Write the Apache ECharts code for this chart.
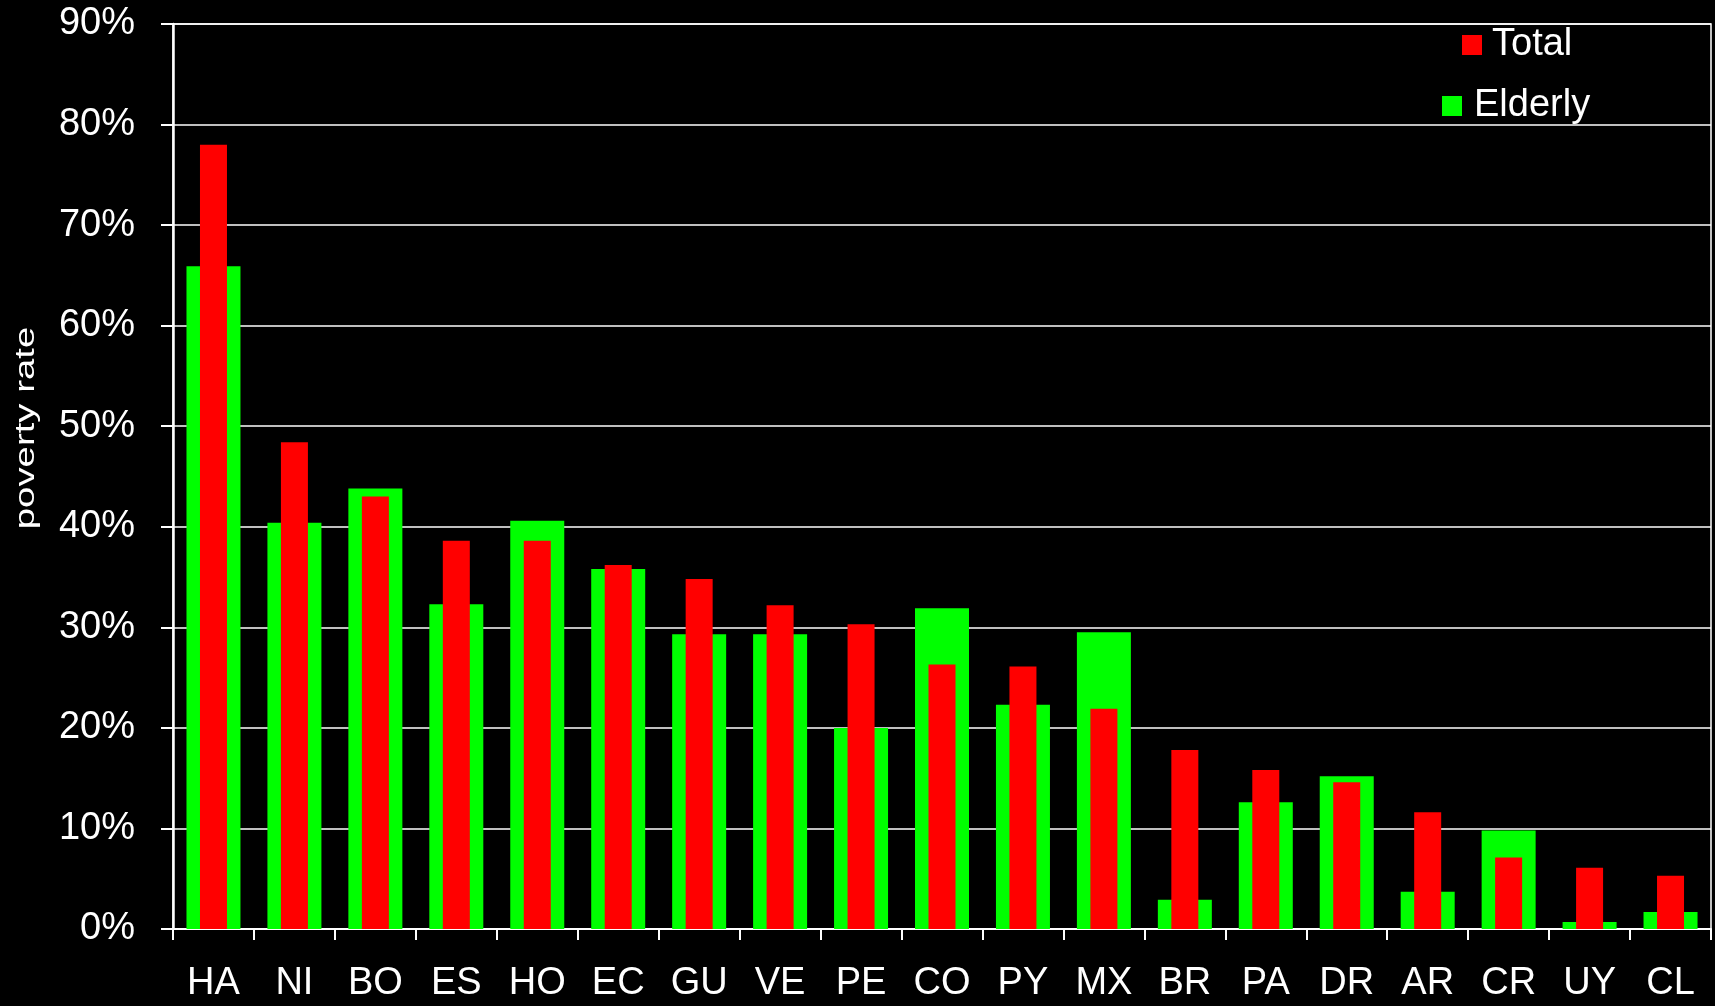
<!DOCTYPE html>
<html>
<head>
<meta charset="utf-8">
<title>Poverty rate: total vs elderly</title>
<script src="https://cdn.jsdelivr.net/npm/echarts@6/dist/echarts.min.js"></script>
<style>
  html, body { margin: 0; padding: 0; background: #000; }
  #chart { width: 1715px; height: 1006px; }
</style>
</head>
<body>
<div id="chart"></div>
<script>
// Country codes along the x axis
const countries = ['HA', 'NI', 'BO', 'ES', 'HO', 'EC', 'GU', 'VE', 'PE', 'CO',
                   'PY', 'MX', 'BR', 'PA', 'DR', 'AR', 'CR', 'UY', 'CL'];

// Poverty rate of the whole population (%)
const totalRate = [78.0, 48.4, 43.0, 38.6, 38.6, 36.2, 34.8, 32.2, 30.3, 26.3,
                   26.1, 21.9, 17.8, 15.8, 14.6, 11.6, 7.1, 6.1, 5.3];

// Poverty rate of the elderly (%)
const elderlyRate = [65.9, 40.4, 43.8, 32.3, 40.6, 35.8, 29.3, 29.3, 20.0, 31.9,
                     22.3, 29.5, 2.9, 12.6, 15.2, 3.7, 9.8, 0.7, 1.7];

// Value axis range and step (%)
const yMin = 0;
const yMax = 90;
const yStep = 10;

const FONT = '"Liberation Sans", Arial, Helvetica, sans-serif';

const chart = echarts.init(document.getElementById('chart'), null, { renderer: 'canvas' });

chart.setOption({
  backgroundColor: '#000000',
  animation: false,
  grid: {
    left: 173,
    right: 4,
    top: 24,
    bottom: 77,
    show: true,
    borderColor: '#ffffff',
    borderWidth: 1.5
  },
  legend: [
    {
      data: ['Total'],
      left: 1462,
      top: 26,
      padding: 0,
      itemWidth: 20,
      itemHeight: 20,
      icon: 'rect',
      textStyle: { color: '#ffffff', fontSize: 38, fontFamily: FONT, padding: [0, 0, 0, 5] }
    },
    {
      data: ['Elderly'],
      left: 1442,
      top: 87,
      padding: 0,
      itemWidth: 20,
      itemHeight: 20,
      icon: 'rect',
      textStyle: { color: '#ffffff', fontSize: 38, fontFamily: FONT, padding: [0, 0, 0, 7] }
    }
  ],
  xAxis: [
    {
      type: 'category',
      data: countries,
      boundaryGap: true,
      axisLine: { show: true, lineStyle: { color: '#ffffff', width: 2 } },
      axisTick: { show: true, length: 11, lineStyle: { color: '#ffffff', width: 2 } },
      axisLabel: { color: '#ffffff', fontSize: 38, fontFamily: FONT, margin: 36, interval: 0 },
      splitLine: { show: false }
    },
    {
      // Overlay axis so the narrow red bars sit centred on the wide green ones
      type: 'category',
      data: countries,
      position: 'bottom',
      boundaryGap: true,
      show: false
    }
  ],
  yAxis: {
    type: 'value',
    min: yMin,
    max: yMax,
    interval: yStep,
    axisLine: { show: true, lineStyle: { color: '#ffffff', width: 2.5 } },
    axisTick: { show: true, length: 12, lineStyle: { color: '#ffffff', width: 2 } },
    axisLabel: { color: '#ffffff', fontSize: 38, fontFamily: FONT, margin: 38, formatter: '{value}%' },
    splitLine: { show: true, lineStyle: { color: '#ffffff', width: 1.5 } }
  },
  graphic: [
    {
      type: 'text',
      x: 27,
      y: 428,
      rotation: Math.PI / 2,
      scaleX: 1.42,
      style: {
        text: 'poverty rate',
        fill: '#ffffff',
        font: '27px ' + FONT,
        align: 'center',
        verticalAlign: 'middle'
      }
    }
  ],
  series: [
    {
      name: 'Elderly',
      type: 'bar',
      xAxisIndex: 0,
      data: elderlyRate,
      barWidth: 54,
      itemStyle: { color: '#00ff00' },
      z: 2
    },
    {
      name: 'Total',
      type: 'bar',
      xAxisIndex: 1,
      data: totalRate,
      barWidth: 27,
      itemStyle: { color: '#ff0000' },
      z: 3
    }
  ]
});
</script>
</body>
</html>
